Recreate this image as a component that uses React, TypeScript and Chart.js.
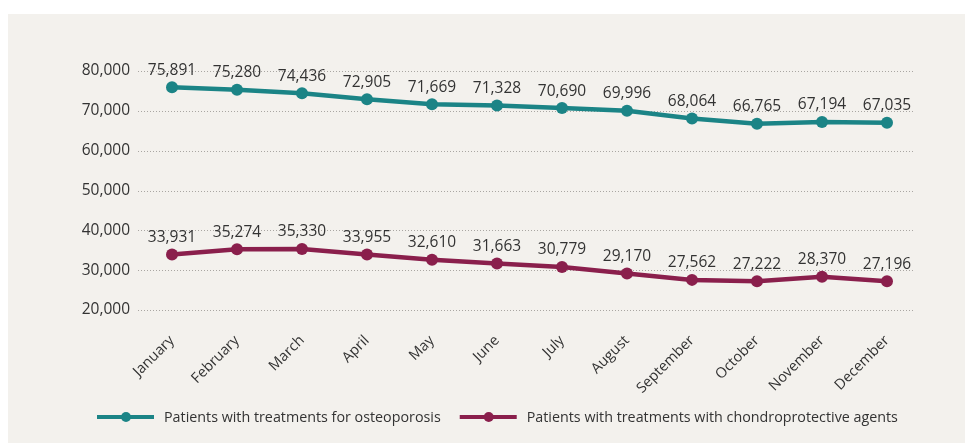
import React, { useEffect, useRef } from "react";
import { Chart, registerables } from "chart.js";

Chart.register(...registerables);

const months = [
  "January", "February", "March", "April", "May", "June",
  "July", "August", "September", "October", "November", "December",
];
const osteoporosis = [75891, 75280, 74436, 72905, 71669, 71328, 70690, 69996, 68064, 66765, 67194, 67035];
const chondroprotective = [33931, 35274, 35330, 33955, 32610, 31663, 30779, 29170, 27562, 27222, 28370, 27196];
const seriesNames = [
  "Patients with treatments for osteoporosis",
  "Patients with treatments with chondroprotective agents",
];
const yMin = 20000;
const yMax = 80000;
const yStep = 10000;

const TEAL = "#1b8486";
const MAROON = "#8a1f4c";
const TEXT = "#333333";
const FONT = "'Open Sans', 'Noto Sans', sans-serif";

const fmt = (v: number) => v.toLocaleString("en-US");

// dotted horizontal guides that run a little past the plotted points
const dottedGrid = {
  id: "dottedGrid",
  beforeDatasetsDraw(chart: any) {
    const { ctx, chartArea, scales } = chart;
    const y = scales.y;
    ctx.save();
    ctx.strokeStyle = "#a9a6a2";
    ctx.lineWidth = 1;
    ctx.setLineDash([1, 2]);
    y.ticks.forEach((t: any) => {
      const py = Math.round(y.getPixelForValue(t.value)) + 0.5;
      ctx.beginPath();
      ctx.moveTo(chartArea.left - 34, py);
      ctx.lineTo(chartArea.right + 26, py);
      ctx.stroke();
    });
    ctx.restore();
  },
};

// value labels above each point
const valueLabels = {
  id: "valueLabels",
  afterDatasetsDraw(chart: any) {
    const { ctx } = chart;
    ctx.save();
    ctx.font = `15.5px ${FONT}`;
    ctx.fillStyle = TEXT;
    ctx.textAlign = "center";
    ctx.textBaseline = "middle";
    chart.data.datasets.forEach((ds: any, i: number) => {
      const meta = chart.getDatasetMeta(i);
      meta.data.forEach((pt: any, j: number) => {
        ctx.fillText(fmt(ds.data[j]), pt.x, pt.y - 17);
      });
    });
    ctx.restore();
  },
};

// legend: line with a dot, followed by the series name
const lineLegend = {
  id: "lineLegend",
  afterDraw(chart: any) {
    const { ctx } = chart;
    const y = 403;
    let x = 89;
    ctx.save();
    ctx.font = `14.3px ${FONT}`;
    ctx.textBaseline = "middle";
    ctx.textAlign = "left";
    chart.data.datasets.forEach((ds: any) => {
      ctx.strokeStyle = ds.borderColor;
      ctx.lineWidth = 4;
      ctx.setLineDash([]);
      ctx.beginPath();
      ctx.moveTo(x, y);
      ctx.lineTo(x + 57, y);
      ctx.stroke();
      ctx.fillStyle = ds.borderColor;
      ctx.beginPath();
      ctx.arc(x + 29, y, 5, 0, Math.PI * 2);
      ctx.fill();
      ctx.fillStyle = TEXT;
      ctx.fillText(ds.label, x + 67, y + 0.5);
      x += 67 + ctx.measureText(ds.label).width + 19;
    });
    ctx.restore();
  },
};

export default function App() {
  const canvasRef = useRef<HTMLCanvasElement | null>(null);

  useEffect(() => {
    const canvas = canvasRef.current;
    if (!canvas) return;
    const chart = new Chart(canvas, {
      type: "line",
      data: {
        labels: months,
        datasets: [
          {
            label: seriesNames[0],
            data: osteoporosis,
            borderColor: TEAL,
            backgroundColor: TEAL,
            borderWidth: 4.5,
            pointRadius: 6,
            pointBorderWidth: 0,
            pointBackgroundColor: TEAL,
            tension: 0,
          },
          {
            label: seriesNames[1],
            data: chondroprotective,
            borderColor: MAROON,
            backgroundColor: MAROON,
            borderWidth: 4.5,
            pointRadius: 6,
            pointBorderWidth: 0,
            pointBackgroundColor: MAROON,
            tension: 0,
          },
        ],
      },
      options: {
        animation: false,
        responsive: true,
        maintainAspectRatio: false,
        layout: { padding: { left: 0, right: 78, top: 57, bottom: 0 } },
        plugins: {
          legend: { display: false },
          tooltip: { enabled: false },
        },
        scales: {
          x: {
            offset: false,
            grid: { display: false, drawTicks: false },
            border: { display: false },
            ticks: {
              autoSkip: false,
              minRotation: 45,
              maxRotation: 45,
              padding: 22,
              color: TEXT,
              font: { family: FONT, size: 14.5 },
            },
            afterFit(scale: any) {
              scale.height = 133;
            },
          },
          y: {
            min: yMin,
            max: yMax,
            grid: { display: false, drawTicks: false },
            border: { display: false },
            ticks: {
              stepSize: yStep,
              padding: 42,
              color: TEXT,
              font: { family: FONT, size: 15.5 },
              callback: (v: any) => fmt(Number(v)),
            },
            afterFit(scale: any) {
              scale.width = 164;
            },
          },
        },
      },
      plugins: [dottedGrid, valueLabels, lineLegend],
    });
    return () => chart.destroy();
  }, []);

  return (
    <div
      style={{
        position: "absolute",
        left: 8,
        top: 14,
        width: 957,
        height: 429,
        background: "#f3f1ed",
      }}
    >
      <canvas ref={canvasRef} />
    </div>
  );
}
